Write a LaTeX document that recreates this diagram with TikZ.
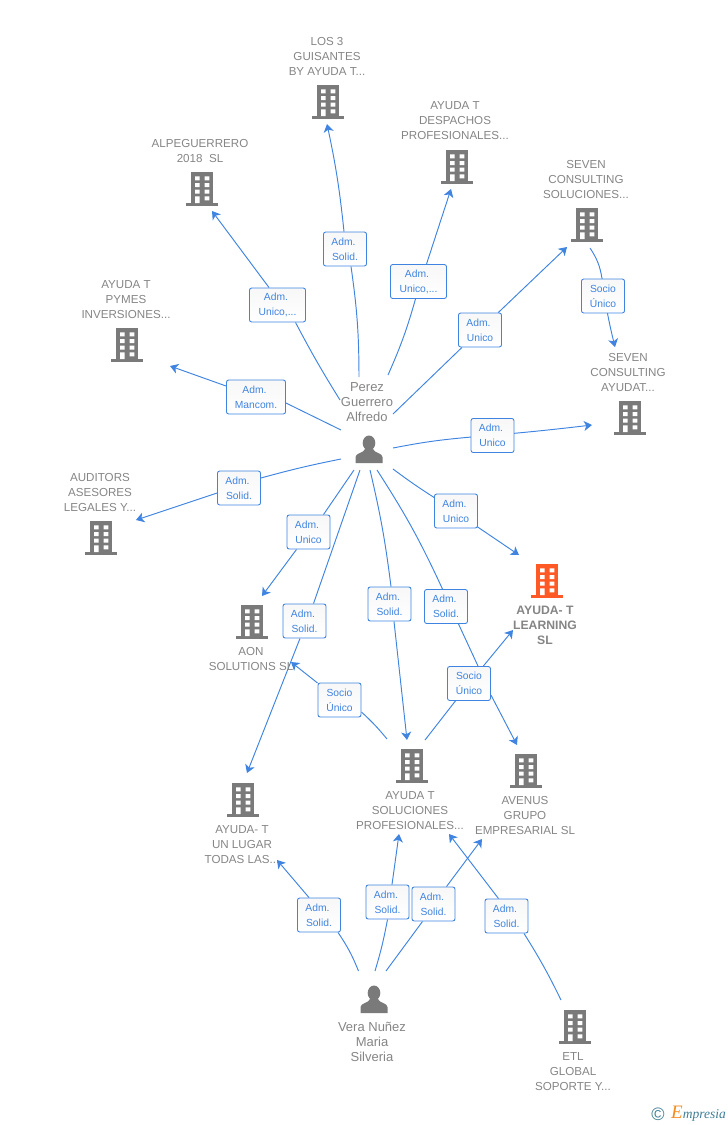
\documentclass[tikz,border=0pt]{standalone}
\usepackage{fontspec}
\setmainfont{Liberation Sans}
\newfontfamily\logofont{Liberation Serif}
\usetikzlibrary{arrows.meta,backgrounds}
\definecolor{linkblue}{HTML}{3F84E0}
\definecolor{iconGray}{HTML}{7A7A7A}
\definecolor{labelGray}{HTML}{858585}
\definecolor{mainOrange}{HTML}{FF5A26}
\definecolor{logoTeal}{HTML}{3D7E96}
\definecolor{logoOrange}{HTML}{F58A1F}
\newcommand{\adm}{Adm.\kern3pt}
\tikzset{
  link/.style={linkblue, line width=0.95pt, -{Stealth[length=8pt,width=10pt,inset=2.2pt]}},
  tagbox/.style={draw=linkblue, line width=0.9pt, rounded corners=2.2pt, top color=black!3, bottom color=white,
    minimum width=43pt, minimum height=34pt, inner sep=0pt, align=center, text=linkblue,
    font=\fontsize{10.3}{15}\selectfont},
  companylabel/.style={align=center, text=labelGray, inner sep=0pt, yshift=-0.8pt, font=\fontsize{11.6}{15}\selectfont},
  personlabel/.style={align=center, text=labelGray, inner sep=0pt, font=\fontsize{13}{15}\selectfont},
  mainlabel/.style={align=center, text=labelGray, inner sep=0pt, font=\fontsize{12.2}{15}\selectfont\bfseries},
  building/.pic={
    \fill[pic actions] (-11,-17) rectangle (11,14);
    \fill[pic actions] (-16,14) rectangle (16,17);
    \fill[white] (-7,-12.7) rectangle (-2.3,-8.7) (2.7,-12.7) rectangle (7.3,-8.7);
    \fill[white] (-7,-6) rectangle (-2.3,-2) (2.7,-6) rectangle (7.3,-2);
    \fill[white] (-7,0.7) rectangle (-2.3,4.7) (2.7,0.7) rectangle (7.3,4.7);
    \fill[white] (-7,7.3) rectangle (-2.3,14) (2.7,7.3) rectangle (7.3,11.3);
  },
  person/.pic={
    \fill[iconGray] (0,-7) circle[x radius=6.3,y radius=7.5];
    \fill[iconGray] (-13.5,13) -- (-13.5,7) .. controls (-13.5,3) and (-5,3) .. (-4,-1) -- (4,-1)
      .. controls (5,3) and (13.5,3) .. (13.5,7) -- (13.5,13) -- cycle;
  }
}
\begin{document}
\begin{tikzpicture}[x=1pt,y=-1pt]
  \useasboundingbox (0,0) rectangle (728,1125);
  %Icons
  \pic[fill=iconGray] (iconGuisantes) at (328,102) {building};
  \pic[fill=iconGray] (iconDespachos) at (457,167) {building};
  \pic[fill=iconGray] (iconAlpe) at (202,189) {building};
  \pic[fill=iconGray] (iconSeven) at (587,225) {building};
  \pic[fill=iconGray] (iconPymes) at (127,345) {building};
  \pic[fill=iconGray] (iconAyudat) at (630,418) {building};
  \pic[fill=iconGray] (iconAuditors) at (101,538) {building};
  \pic[fill=mainOrange] (iconLearning) at (547,581) {building};
  \pic[fill=iconGray] (iconAon) at (252,622) {building};
  \pic[fill=iconGray] (iconLugar) at (243,800) {building};
  \pic[fill=iconGray] (iconSoluciones) at (412,766) {building};
  \pic[fill=iconGray] (iconAvenus) at (526,771) {building};
  \pic[fill=iconGray] (iconEtl) at (575,1027) {building};
  \pic (iconPerez) at (369,450) {person};
  \pic (iconVera) at (374,1000) {person};
  %Labels
  \node[companylabel] (guisantes) at (327,56) {LOS 3\\GUISANTES\\BY AYUDA T...};
  \node[companylabel] (despachos) at (455,120) {AYUDA T\\DESPACHOS\\PROFESIONALES...};
  \node[companylabel] (alpe) at (200,150.5) {ALPEGUERRERO\\2018~~SL};
  \node[companylabel] (seven) at (586,179) {SEVEN\\CONSULTING\\SOLUCIONES...};
  \node[companylabel] (ayudat) at (628,372) {SEVEN\\CONSULTING\\AYUDAT...};
  \node[companylabel] (pymes) at (126,299) {AYUDA T\\PYMES\\INVERSIONES...};
  \node[companylabel] (auditors) at (100,492) {AUDITORS\\ASESORES\\LEGALES Y...};
  \node[mainlabel] (learning) at (545,625) {AYUDA- T\\LEARNING\\SL};
  \node[companylabel] (aon) at (251,658.5) {AON\\SOLUTIONS SL};
  \node[companylabel] (lugar) at (242,844) {AYUDA- T\\UN LUGAR\\TODAS LAS...};
  \node[companylabel] (soluciones) at (410,810) {AYUDA T\\SOLUCIONES\\PROFESIONALES...};
  \node[companylabel] (avenus) at (525,815) {AVENUS\\GRUPO\\EMPRESARIAL SL};
  \node[companylabel] (etl) at (573,1071) {ETL\\GLOBAL\\SOPORTE Y...};
  \node[personlabel] (perez) at (367,402) {Perez\\Guerrero\\Alfredo};
  \node[personlabel] (vera) at (372,1042) {Vera Nuñez\\Maria\\Silveria};
  %Tags
  \node[tagbox] (tagGuisantes) at (345,249) {\adm\\Solid.};
  \node[tagbox, minimum width=56pt] (tagAlpe) at (277.5,305) {\adm\\Unico,...};
  \node[tagbox, minimum width=56pt] (tagDespachos) at (418.5,281.5) {\adm\\Unico,...};
  \node[tagbox] (tagSeven) at (480,330) {\adm\\Unico};
  \node[tagbox, minimum width=59pt] (tagPymes) at (256,397) {\adm\\Mancom.};
  \node[tagbox] (tagSocioSeven) at (603,296) {Socio\\Único};
  \node[tagbox] (tagAyudat) at (492.5,435.5) {\adm\\Unico};
  \node[tagbox] (tagAuditors) at (239,488) {\adm\\Solid.};
  \node[tagbox] (tagLearning) at (456,511) {\adm\\Unico};
  \node[tagbox] (tagAon) at (308.5,532) {\adm\\Unico};
  \node[tagbox] (tagLugar) at (304.5,621) {\adm\\Solid.};
  \node[tagbox] (tagSoluciones) at (389.5,604) {\adm\\Solid.};
  \node[tagbox] (tagAvenus) at (446,606.5) {\adm\\Solid.};
  \node[tagbox] (tagSocioLearning) at (469,683.5) {Socio\\Único};
  \node[tagbox] (tagSocioAon) at (339.5,700) {Socio\\Único};
  \node[tagbox] (tagVeraLugar) at (319,915) {\adm\\Solid.};
  \node[tagbox] (tagVeraSol) at (387.5,902) {\adm\\Solid.};
  \node[tagbox] (tagVeraAvenus) at (433.5,904) {\adm\\Solid.};
  \node[tagbox] (tagEtl) at (506.5,916) {\adm\\Solid.};
  %Free ends
  \coordinate (p1) at (359,377);
  \coordinate (p2) at (340,400);
  \coordinate (p3) at (388,375);
  \coordinate (p4) at (393,414);
  \coordinate (p5) at (341,430);
  \coordinate (p6) at (393,448);
  \coordinate (p7) at (341,459);
  \coordinate (p8) at (393,469);
  \coordinate (p9) at (354,470);
  \coordinate (p10) at (360,470);
  \coordinate (p11) at (370,470);
  \coordinate (p12) at (377,470);
  \coordinate (v1) at (358.5,971);
  \coordinate (v2) at (375,971);
  \coordinate (v3) at (386,971);
  \coordinate (s1) at (590,248);
  \coordinate (s2) at (425,740);
  \coordinate (s3) at (387,739);
  \coordinate (e1) at (561,1000);
  \coordinate (a1) at (327,124);
  \coordinate (a2) at (212,211);
  \coordinate (a3) at (451,189);
  \coordinate (a4) at (567,247);
  \coordinate (a5) at (170,366);
  \coordinate (a6) at (592,425);
  \coordinate (a7) at (136,520);
  \coordinate (a8) at (519,555);
  \coordinate (a9) at (262,596);
  \coordinate (a10) at (247,773);
  \coordinate (a11) at (407,740);
  \coordinate (a12) at (517,745);
  \coordinate (a13) at (615,347);
  \coordinate (a14) at (513,630);
  \coordinate (a15) at (291,662);
  \coordinate (a16) at (277,860);
  \coordinate (a17) at (399,834);
  \coordinate (a18) at (482,839);
  \coordinate (a19) at (449,834);
  %Connectors
  \begin{scope}[on background layer]
    \draw[link] (p1) to[bend right=4] ([xshift=6pt]tagGuisantes.south) ([xshift=-1pt]tagGuisantes.north) to[bend right=3] (a1);
    \draw[link] (p2) to[bend left=2] ([xshift=18pt]tagAlpe.south) ([xshift=-8.5pt]tagAlpe.north) to (a2);
    \draw[link] (p3) to[bend right=4] ([xshift=-3pt]tagDespachos.south) ([xshift=8pt]tagDespachos.north) to (a3);
    \draw[link] (p4) to (tagSeven) to (a4);
    \draw[link] (p5) to ([yshift=-6pt]tagPymes.east) ([yshift=11pt]tagPymes.west) to (a5);
    \draw[link] (p6) to[bend left=3] (tagAyudat) to[bend right=1] (a6);
    \draw[link] (p7) to[bend right=2] ([yshift=10pt]tagAuditors.east) ([yshift=-5pt]tagAuditors.west) to (a7);
    \draw[link] (p8) to[bend right=2] (tagLearning) to (a8);
    \draw[link] (p9) to ([xshift=15pt]tagAon.north) ([xshift=-12pt]tagAon.south) to (a9);
    \draw[link] (p10) to ([xshift=9pt]tagLugar.north) ([xshift=-4.5pt]tagLugar.south) to (a10);
    \draw[link] (p11) to[bend left=3] ([xshift=1.5pt]tagSoluciones.north) ([xshift=4.5pt]tagSoluciones.south) to (a11);
    \draw[link] (p12) to[bend left=4] ([xshift=-3.5pt]tagAvenus.north) ([xshift=12.5pt]tagAvenus.south) to ([xshift=9pt]tagSocioLearning.north) ([yshift=-11.5pt]tagSocioLearning.east) to (a12);
    \draw[link] (s1) to[bend left=12] (tagSocioSeven) to[bend right=3] (a13);
    \draw[link] (s2) to (tagSocioLearning) to (a14);
    \draw[link] (s3) to[bend right=4] ([yshift=-12pt]tagSocioAon.east) ([yshift=17pt]tagSocioAon.west) to (a15);
    \draw[link] (v1) to[bend right=6] ([xshift=19pt]tagVeraLugar.south) ([xshift=-10pt]tagVeraLugar.north) to (a16);
    \draw[link] (v2) to[bend right=3] (tagVeraSol.south) ([xshift=4.5pt]tagVeraSol.north) to (a17);
    \draw[link] (v3) to ([xshift=-11pt]tagVeraAvenus.south) ([xshift=13pt]tagVeraAvenus.north) to (a18);
    \draw[link] (e1) to[bend right=3] ([xshift=17.5pt]tagEtl.south) ([xshift=-8pt]tagEtl.north) to (a19);
  \end{scope}
  %Logo
  \node[text=logoTeal, inner sep=0pt, font=\fontsize{18}{18}\selectfont] (logoSign) at (658,1114) {©};
  \node[anchor=west, inner sep=0pt, text=logoTeal, font=\logofont\itshape\fontsize{13.5}{14}\selectfont] (logoText) at (671,1114)
    {{\color{logoOrange}\fontsize{19}{20}\selectfont E}mpresia};
\end{tikzpicture}
\end{document}
